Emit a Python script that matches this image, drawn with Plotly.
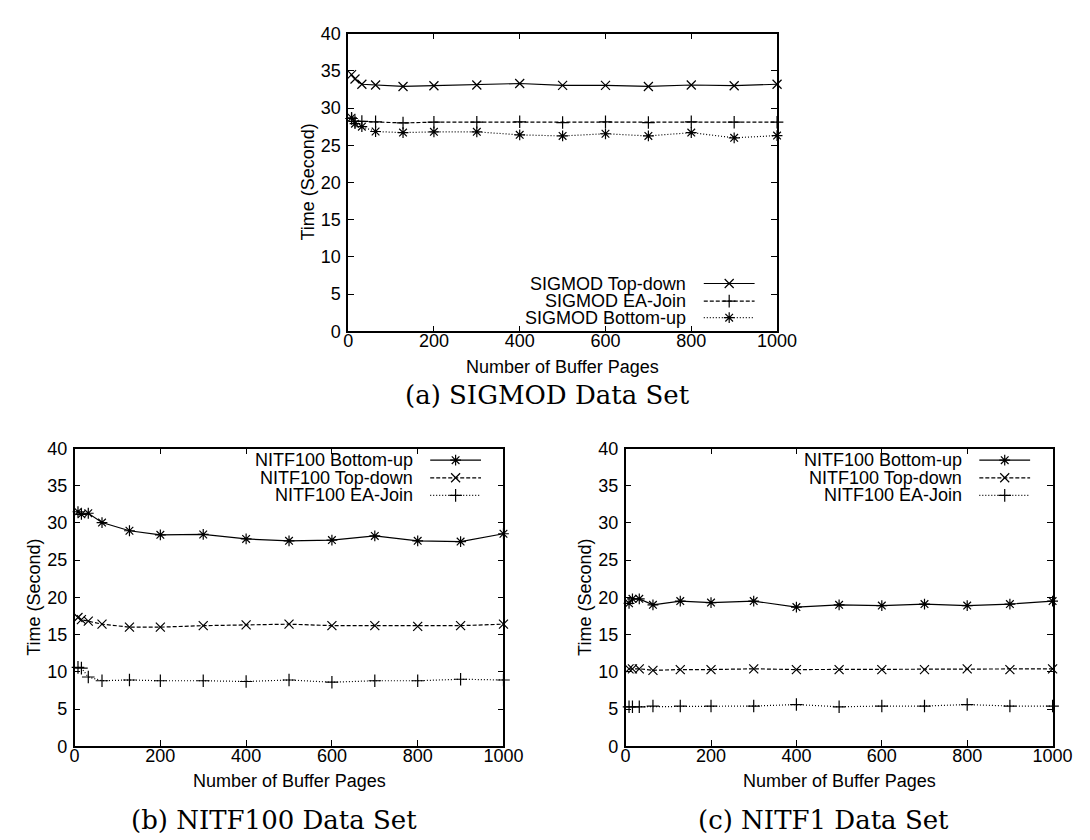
import plotly.graph_objects as go

W, H = 1090, 840

# ---------------- data ----------------
buffer_pages = [8, 16, 32, 64, 128, 200, 300, 400, 500, 600, 700, 800, 900, 1000]

sigmod_topdown = [34.5, 33.9, 33.2, 33.1, 32.9, 33.0, 33.1, 33.3, 33.05, 33.05, 32.9, 33.1, 33.0, 33.2]
sigmod_eajoin = [28.6, 28.2, 28.2, 28.15, 28.0, 28.1, 28.1, 28.15, 28.05, 28.15, 28.05, 28.15, 28.1, 28.1]
sigmod_bottomup = [28.7, 27.9, 27.5, 26.85, 26.7, 26.8, 26.8, 26.4, 26.25, 26.55, 26.25, 26.7, 26.0, 26.3]

nitf100_bottomup = [31.5, 31.15, 31.3, 30.05, 28.95, 28.4, 28.45, 27.85, 27.6, 27.7, 28.25, 27.6, 27.5, 28.55]
nitf100_topdown = [17.3, 17.0, 16.8, 16.4, 16.0, 16.0, 16.2, 16.3, 16.4, 16.2, 16.2, 16.1, 16.2, 16.4]
nitf100_eajoin = [10.6, 10.5, 9.3, 8.8, 8.9, 8.8, 8.8, 8.7, 8.9, 8.6, 8.8, 8.8, 9.0, 8.9]

nitf1_bottomup = [19.2, 19.8, 19.8, 19.0, 19.5, 19.3, 19.5, 18.7, 19.0, 18.9, 19.1, 18.9, 19.1, 19.5]
nitf1_topdown = [10.4, 10.4, 10.4, 10.2, 10.3, 10.3, 10.4, 10.3, 10.3, 10.3, 10.3, 10.4, 10.3, 10.4]
nitf1_eajoin = [5.3, 5.3, 5.3, 5.4, 5.4, 5.4, 5.4, 5.6, 5.3, 5.4, 5.4, 5.6, 5.4, 5.4]

x_ticks = [0, 200, 400, 600, 800, 1000]
y_ticks = [0, 5, 10, 15, 20, 25, 30, 35, 40]

x_title = "Number of Buffer Pages"
y_title = "Time (Second)"
captions = ["(a) SIGMOD Data Set", "(b) NITF100 Data Set", "(c) NITF1 Data Set"]

# ---------------- styles ----------------
SANS = "Liberation Sans, Arial, sans-serif"
SERIF = "DejaVu Serif, serif"
FS = 18
LW = 1.2
MS = 9
DASH = {"solid": "solid", "dashed": "4px,2px", "dotted": "1px,2px"}
SYM = {"x": "x-thin-open", "plus": "cross-thin-open", "star": "asterisk-open"}

# panel pixel boxes (left, right, top, bottom)
panels = [
    (343, 782, 16, 321),
    (63, 502, 441, 746),
    (627, 1064, 441, 746),
]

series = [
    [("SIGMOD Top-down", sigmod_topdown, "solid", "x"),
     ("SIGMOD EA-Join", sigmod_eajoin, "dashed", "plus"),
     ("SIGMOD Bottom-up", sigmod_bottomup, "dotted", "star")],
    [("NITF100 Bottom-up", nitf100_bottomup, "solid", "star"),
     ("NITF100 Top-down", nitf100_topdown, "dashed", "x"),
     ("NITF100 EA-Join", nitf100_eajoin, "dotted", "plus")],
    [("NITF100 Bottom-up", nitf1_bottomup, "solid", "star"),
     ("NITF100 Top-down", nitf1_topdown, "dashed", "x"),
     ("NITF100 EA-Join", nitf1_eajoin, "dotted", "plus")],
]

# legend row positions (px) for each panel
legend_rows = [
    [272, 290, 307],
    [453, 471, 489],
    [453, 471, 489],
]

fig = go.Figure()
layout = dict(
    width=W, height=H, autosize=False,
    margin=dict(l=0, r=0, t=0, b=0, pad=0),
    paper_bgcolor="white", plot_bgcolor="rgba(0,0,0,0)",
    showlegend=False,
    annotations=[],
)

axis_common = dict(
    ticks="inside", ticklen=6, tickwidth=1, tickcolor="black",
    showline=True, linecolor="black", linewidth=1.5, mirror="ticks",
    showgrid=False, zeroline=False, fixedrange=True,
    tickfont=dict(family=SANS, size=FS, color="black"),
)

for i, (L, R, T, B) in enumerate(panels):
    n = "" if i == 0 else str(i + 1)
    xa, ya = "x" + n, "y" + n
    layout["xaxis" + n] = dict(
        axis_common, domain=[L / W, R / W], range=[0, 1000],
        tickvals=x_ticks, anchor=ya, ticklabelstandoff=-8,
    )
    layout["yaxis" + n] = dict(
        axis_common, domain=[1 - B / H, 1 - T / H], range=[0, 40],
        tickvals=y_ticks, anchor=xa, ticklabelstandoff=2,
    )
    for name, vals, ls, sym in series[i]:
        fig.add_trace(go.Scatter(
            x=buffer_pages, y=vals, xaxis=xa, yaxis=ya, name=name,
            mode="lines+markers",
            line=dict(color="black", width=LW, dash=DASH[ls]),
            marker=dict(symbol=SYM[sym], size=MS, color="black",
                        line=dict(color="black", width=LW)),
            cliponaxis=False,
        ))

# overlay pixel axis for annotations / legend keys
layout["xaxis4"] = dict(domain=[0, 1], range=[0, W], visible=False, anchor="y4", fixedrange=True)
layout["yaxis4"] = dict(domain=[0, 1], range=[H, 0], visible=False, anchor="x4", fixedrange=True)

for i, (L, R, T, B) in enumerate(panels):
    # axis titles
    layout["annotations"].append(dict(
        xref="x4", yref="y4", x=(L + R) / 2, y=B + 36, text=x_title,
        showarrow=False, xanchor="center", yanchor="middle",
        font=dict(family=SANS, size=FS, color="black")))
    layout["annotations"].append(dict(
        xref="x4", yref="y4", x=L - 41, y=(T + B) / 2, text=y_title,
        showarrow=False, xanchor="center", yanchor="middle", textangle=-90,
        font=dict(family=SANS, size=FS, color="black")))
    # legend: text right-aligned, key sample to the right
    text_right = R - 91
    s0, s1 = R - 75, R - 23
    for (name, vals, ls, sym), yy in zip(series[i], legend_rows[i]):
        layout["annotations"].append(dict(
            xref="x4", yref="y4", x=text_right, y=yy, text=name,
            showarrow=False, xanchor="right", yanchor="middle",
            font=dict(family=SANS, size=FS, color="black")))
        fig.add_trace(go.Scatter(
            x=[s0, s1], y=[yy, yy], xaxis="x4", yaxis="y4", mode="lines",
            line=dict(color="black", width=LW, dash=DASH[ls]), hoverinfo="skip"))
        fig.add_trace(go.Scatter(
            x=[(s0 + s1) / 2], y=[yy], xaxis="x4", yaxis="y4", mode="markers",
            marker=dict(symbol=SYM[sym], size=MS, color="black",
                        line=dict(color="black", width=LW)), hoverinfo="skip"))

# captions
cap_pos = [(547, 386), (267, 822), (830, 822)]
for text, (cx, cy) in zip(captions, cap_pos):
    layout["annotations"].append(dict(
        xref="x4", yref="y4", x=cx, y=cy, text=text, showarrow=False,
        xanchor="center", yanchor="middle",
        font=dict(family=SERIF, size=26, color="black")))

fig.update_layout(**layout)
fig.write_html("out.html")
